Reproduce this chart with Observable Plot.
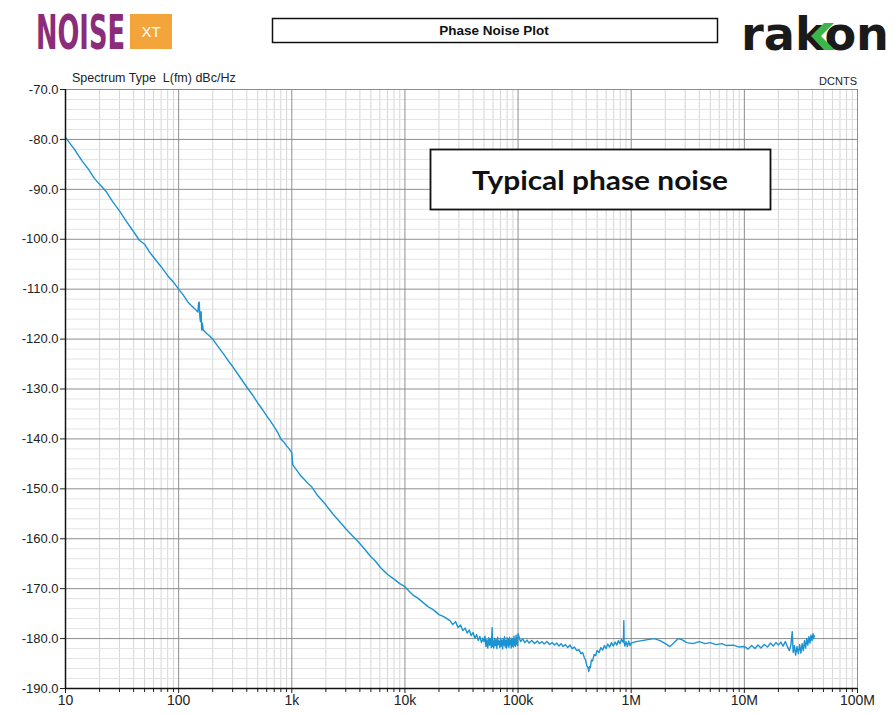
<!DOCTYPE html>
<html>
<head>
<meta charset="utf-8">
<script src="https://cdn.jsdelivr.net/npm/d3@7"></script>
<script src="https://cdn.jsdelivr.net/npm/@observablehq/plot@0.6"></script>
<style>
  html, body { margin: 0; padding: 0; background: #fff; }
  #wrap { position: relative; width: 895px; height: 715px; background: #fff; overflow: hidden; }
  #chart { position: absolute; left: 0; top: 0; }
  #overlay { position: absolute; left: 0; top: 0; pointer-events: none; }
</style>
</head>
<body>
<div id="wrap">
  <div id="chart"></div>
  <svg id="overlay" width="895" height="715" xmlns="http://www.w3.org/2000/svg">
    <!-- NOISE XT logo -->
    <text id="noiseLogo" x="0" y="0" font-family="DejaVu Sans Condensed, DejaVu Sans" font-weight="bold" font-size="48" fill="#8b2c7b">NOISE</text>
    <rect x="130" y="14" width="42" height="35" fill="#f3a43a"></rect>
    <text x="151" y="37" text-anchor="middle" font-family="Liberation Sans, Arial" font-size="15" fill="#fff">XT</text>
    <!-- title box -->
    <rect x="272.5" y="18.5" width="445" height="24" fill="#fff" stroke="#111" stroke-width="1.5"></rect>
    <text x="494" y="35" text-anchor="middle" font-family="Liberation Sans, Arial" font-weight="bold" font-size="13.5" fill="#111">Phase Noise Plot</text>
    <!-- rakon logo -->
    <text x="741" y="50" font-family="DejaVu Sans" font-weight="bold" font-size="46" fill="#1a1a1a" textLength="148" lengthAdjust="spacingAndGlyphs">rakon</text>
    <!-- labels above plot -->
    <text x="72" y="82" font-family="Liberation Sans, Arial" font-size="12.5" fill="#222" style="white-space:pre" xml:space="preserve">Spectrum Type  L(fm) dBc/Hz</text>
    <text x="857" y="85" text-anchor="end" font-family="Liberation Sans, Arial" font-size="11" fill="#222">DCNTS</text>
    <!-- annotation box -->
    <rect x="430.5" y="149.5" width="340" height="60" fill="#fff" stroke="#111" stroke-width="1.8"></rect>
    <text x="600" y="190" text-anchor="middle" font-family="Lato, Open Sans, sans-serif" font-weight="bold" font-size="26" fill="#111" textLength="256" lengthAdjust="spacingAndGlyphs">Typical phase noise</text>
  </svg>
</div>
<script>
// ---- Data: [offset frequency Hz, L(f) dBc/Hz] ----
const slopeSegment = [
  [10, -79.6], [12, -82.0], [14, -84.3], [16, -86.0], [18, -87.8], [20, -89.0], [23, -90.5], [26, -92.4],
  [30, -94.3], [35, -96.6], [40, -98.5], [45, -100.2], [50, -101.0], [55, -102.5], [60, -103.6], [70, -105.5],
  [80, -107.3], [90, -108.6], [100, -110.0], [110, -111.2], [120, -112.5], [130, -113.3], [140, -114.0],
  [148, -114.6], [150, -112.8], [152, -112.6], [154, -115.5], [156, -116.5], [158, -114.5], [160, -118.2],
  [162, -116.8], [165, -118.2], [175, -118.8], [190, -119.5], [200, -120.0], [220, -121.3], [250, -123.0],
  [280, -124.6], [300, -125.5], [350, -127.7], [400, -129.6], [450, -131.2], [500, -132.8], [550, -134.1],
  [600, -135.4], [650, -136.5], [700, -137.6], [750, -138.7], [800, -140.0], [850, -140.6], [900, -141.4],
  [950, -142.0], [1000, -142.8]
];
const upperSlopeSegment = [
  [1020, -145.2], [1100, -146.2], [1200, -147.4], [1300, -148.2], [1400, -149.0], [1500, -149.6],
  [1700, -151.4], [2000, -153.2], [2300, -155.0], [2700, -156.8], [3000, -158.0], [3400, -159.3],
  [3800, -160.4], [4300, -161.8], [5000, -163.6], [5500, -164.5], [6100, -165.8], [7000, -167.1],
  [8000, -168.1], [9000, -169.0], [10000, -169.6], [11000, -170.6], [12000, -171.4], [13000, -171.9],
  [14500, -172.8], [16000, -173.6], [18000, -174.3], [20000, -175.2], [22000, -175.6], [25000, -176.4],
  [26500, -177.2], [28000, -176.6], [29500, -177.8], [31000, -177.3], [32500, -178.4], [34000, -177.9],
  [35500, -178.9], [37000, -178.3], [38500, -179.4], [40000, -178.8], [41500, -179.9], [43000, -179.2],
  [44500, -180.4], [46000, -179.6], [47500, -180.8], [49000, -179.9]
];
const floorSegment100k = [
  [50000, -180.6], [51000, -179.5], [52000, -181.6], [53000, -180.2], [54000, -181.9], [55000, -179.8],
  [56000, -181.3], [57000, -180.0], [58000, -181.8], [59000, -177.8], [59500, -181.6], [60000, -180.4],
  [61000, -181.9], [62000, -179.9], [63000, -181.4], [64000, -180.2], [65000, -182.0], [66000, -179.7],
  [67000, -181.2], [68000, -180.5], [69000, -181.8], [70000, -179.9], [71000, -181.5], [72000, -180.3],
  [73000, -182.1], [74000, -180.0], [75000, -181.3], [76000, -179.6], [77000, -181.7], [78000, -180.4],
  [79000, -181.9], [80000, -179.8], [81000, -181.4], [82000, -180.1], [83000, -181.8], [84000, -179.7],
  [85000, -181.2], [86000, -180.3], [87000, -181.9], [88000, -179.9], [89000, -181.5], [90000, -180.0],
  [91000, -181.7], [92000, -179.5], [93000, -181.3], [94000, -180.2], [95000, -181.6], [96000, -179.3],
  [97000, -181.1], [98000, -179.8], [99000, -181.4], [100000, -179.0]
];
const floorSegment1M = [
  [105000, -180.6], [110000, -180.1], [115000, -180.8], [120000, -180.3], [125000, -180.9], [132000, -180.4],
  [140000, -181.0], [148000, -180.5], [155000, -181.0], [163000, -180.6], [170000, -181.1], [180000, -180.6],
  [190000, -181.2], [200000, -180.8], [210000, -181.3], [220000, -180.9], [230000, -181.5], [240000, -181.0],
  [250000, -181.6], [262000, -181.2], [275000, -181.8], [288000, -181.3], [300000, -182.0], [315000, -181.7],
  [330000, -182.4], [345000, -182.2], [360000, -183.0], [372000, -182.8], [385000, -183.8], [395000, -184.3],
  [405000, -185.4], [415000, -185.8], [422000, -186.6], [428000, -185.6], [435000, -185.8], [445000, -184.3],
  [455000, -184.5], [470000, -183.2], [485000, -183.4], [500000, -182.4], [520000, -182.8], [540000, -181.8],
  [560000, -182.3], [580000, -181.4], [600000, -182.0], [620000, -181.1], [645000, -181.7], [670000, -180.8],
  [695000, -181.5], [720000, -180.7], [745000, -181.3], [770000, -180.4], [795000, -181.0], [820000, -180.2],
  [845000, -180.7], [855000, -180.1], [860000, -176.4], [866000, -180.8], [880000, -181.5], [900000, -180.6],
  [925000, -181.6], [950000, -180.5], [975000, -181.4], [1000000, -180.9]
];
const floorSegment10M = [
  [1100000, -180.6], [1250000, -180.4], [1400000, -180.2], [1600000, -180.0], [1800000, -180.4],
  [2000000, -181.0], [2200000, -181.6], [2400000, -180.8], [2600000, -180.0], [2800000, -180.2],
  [3100000, -180.8], [3500000, -181.0], [4000000, -180.6], [4500000, -181.0], [5000000, -180.8],
  [5600000, -181.2], [6300000, -181.0], [7000000, -181.4], [8000000, -181.3], [9000000, -181.7],
  [10000000, -181.6]
];
const floorSegmentEnd = [
  [10800000, -182.1], [11600000, -181.4], [12400000, -182.0], [13200000, -181.3], [14000000, -181.9],
  [15000000, -181.2], [16000000, -181.7], [17000000, -180.9], [18000000, -181.5], [19000000, -180.8],
  [20000000, -181.3], [21000000, -180.7], [22000000, -181.5], [23000000, -180.6], [24000000, -181.6],
  [25000000, -182.4], [25800000, -181.2], [26500000, -178.6], [27000000, -182.8], [27700000, -181.4],
  [28400000, -183.3], [29200000, -181.6], [30000000, -183.0], [30800000, -181.2], [31600000, -182.9],
  [32400000, -181.0], [33200000, -182.4], [34000000, -180.4], [34800000, -181.9], [35600000, -180.0],
  [36400000, -181.3], [37200000, -179.6], [38000000, -180.9], [38800000, -179.3], [39600000, -180.4],
  [40400000, -179.0], [41000000, -180.0], [41500000, -179.4]
];

// ---- Axis ticks and labels ----
const xMajor = [10, 100, 1e3, 1e4, 1e5, 1e6, 1e7, 1e8];
const xMajorLabels = ["10", "100", "1k", "10k", "100k", "1M", "10M", "100M"];
const xMinorMultipliers = [2, 3, 4, 5, 6, 7, 8, 9];
const yMajor = [-70, -80, -90, -100, -110, -120, -130, -140, -150, -160, -170, -180, -190];
const yMinorSteps = [2, 4, 6, 8];

const xMinor = xMajor.slice(0, -1).flatMap(d => xMinorMultipliers.map(m => d * m));
const yMinor = yMajor.slice(1).flatMap(d => yMinorSteps.map(s => d + s));
const data = [
  ...slopeSegment, ...upperSlopeSegment, ...floorSegment100k,
  ...floorSegment1M, ...floorSegment10M, ...floorSegmentEnd
].map(([f, db]) => ({f, db}));

const chart = Plot.plot({
  width: 895,
  height: 715,
  marginLeft: 65,
  marginRight: 38,
  marginTop: 89,
  marginBottom: 27,
  style: {fontFamily: "Liberation Sans, Arial, sans-serif", fontSize: "13px", background: "transparent", color: "#222"},
  x: {type: "log", domain: [10, 1e8], label: null, axis: null},
  y: {domain: [-190, -70], label: null, axis: null},
  marks: [
    Plot.ruleX(xMinor, {stroke: "#d6d6d6", strokeWidth: 1}),
    Plot.ruleY(yMinor, {stroke: "#e3e3e3", strokeWidth: 1}),
    Plot.ruleX(xMajor, {stroke: "#8e8e8e", strokeWidth: 1}),
    Plot.ruleY(yMajor, {stroke: "#8e8e8e", strokeWidth: 1}),
    Plot.line(data, {x: "f", y: "db", stroke: "#1b93d2", strokeWidth: 1.4, curve: "linear"}),
    Plot.axisX({ticks: xMinor, tickFormat: () => "", tickSize: 4, stroke: "#222"}),
    Plot.axisX({ticks: xMajor, tickFormat: d => xMajorLabels[xMajor.indexOf(d)], tickSize: 5, tickPadding: 2, fontSize: 14, label: null, stroke: "#222"}),
    Plot.axisY({ticks: yMajor, tickFormat: d => d.toFixed(1), tickSize: 5, tickPadding: 2, fontSize: 13, label: null, stroke: "#222"}),
    Plot.ruleX([10], {stroke: "#111", strokeWidth: 1.5}),
    Plot.ruleY([-190], {stroke: "#111", strokeWidth: 1.5})
  ]
});
document.getElementById("chart").appendChild(chart);

// scale the condensed NOISE wordmark to its width in the reference
const noise = document.getElementById("noiseLogo");
const nw = noise.getComputedTextLength() || 150;
noise.setAttribute("transform", `translate(36,49) scale(${(89 / nw).toFixed(4)},1)`);

// green chevron of the rakon logo
const ov = document.getElementById("overlay");
const poly = document.createElementNS("http://www.w3.org/2000/svg", "polygon");
poly.setAttribute("points", "811,36 824,23 834,23 821,36 835,50 824,50");
poly.setAttribute("fill", "#3cb54a");
ov.appendChild(poly);
</script>
</body>
</html>
